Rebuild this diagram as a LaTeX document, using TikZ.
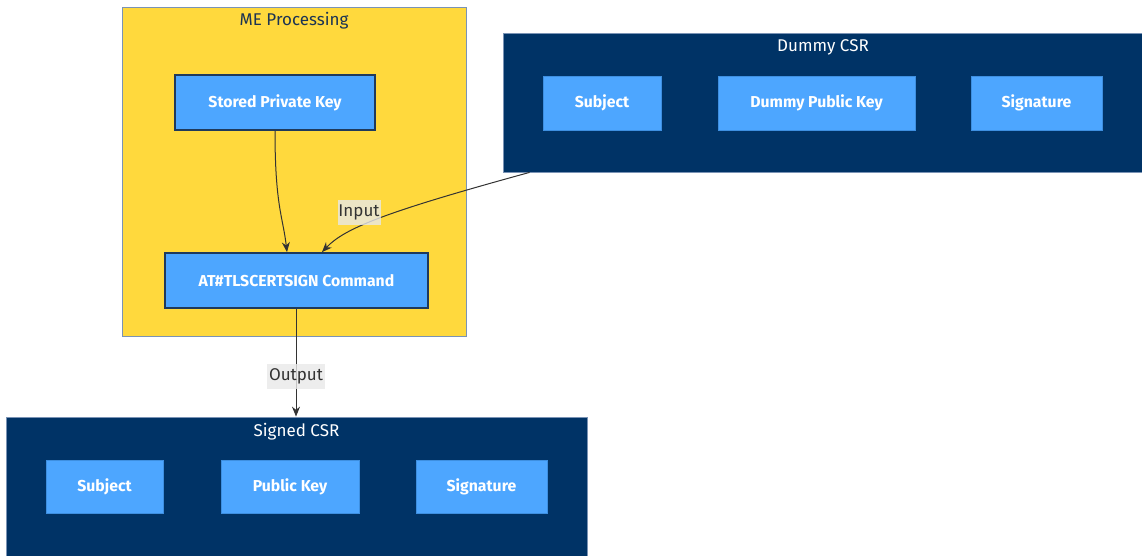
\documentclass[tikz,border=0pt]{standalone}
\usepackage{fontspec}
\setmainfont{Fira Sans}
\usetikzlibrary{arrows.meta}
\definecolor{meyellow}{HTML}{FFD93D}
\definecolor{navy}{HTML}{003366}
\definecolor{skyblue}{HTML}{4DA6FF}
\definecolor{nodeedge}{HTML}{1F3A5C}
\definecolor{clusteredge}{HTML}{7A93B5}
\definecolor{linkgray}{HTML}{333333}
\definecolor{labelbg}{HTML}{E8E8E8}
\tikzset{
  cluster/.style={draw=clusteredge, line width=0.8pt, inner sep=0pt, anchor=center},
  yellowcluster/.style={cluster, fill=meyellow},
  navycluster/.style={cluster, fill=navy},
  ctitle/.style={font=\fontsize{17}{19}\selectfont, inner sep=0pt},
  keybox/.style={draw=nodeedge, line width=1.8pt, fill=skyblue, text=white,
    font=\bfseries\fontsize{15.8}{18}\selectfont, inner sep=0pt, minimum height=55pt},
  fieldbox/.style={draw=skyblue!80!navy, line width=0.6pt, fill=skyblue, text=white,
    font=\bfseries\fontsize{15.8}{18}\selectfont, inner sep=0pt, minimum height=54pt},
  link/.style={draw=linkgray, line width=1pt, -{Stealth[length=10pt,width=8pt]}},
  elabel/.style={fill=labelbg, fill opacity=0.8, text opacity=1, text=linkgray,
    font=\fontsize{17}{19}\selectfont, inner sep=0pt, minimum height=25pt}
}
\begin{document}
\begin{tikzpicture}[x=1pt,y=-1pt]
\useasboundingbox (0,0) rectangle (1142,556);

% clusters
\node[yellowcluster, minimum width=344pt, minimum height=329pt] (me) at (294,171.5) {};
\node[ctitle, text=nodeedge!90!black] (metitle) at (294,20.5) {ME Processing};

\node[navycluster, minimum width=640pt, minimum height=139pt] (dummy) at (823,102.5) {};
\node[ctitle, text=white] (dummytitle) at (823,47.5) {Dummy CSR};

\node[navycluster, minimum width=581pt, minimum height=139pt] (signed) at (296.5,486.5) {};
\node[ctitle, text=white] (signedtitle) at (296.5,431.5) {Signed CSR};

% processing nodes
\node[keybox, minimum width=200pt] (spk) at (275,102.5) {Stored Private Key};
\node[keybox, minimum width=263pt] (cmd) at (296.5,280.5) {AT\#TLSCERTSIGN Command};

% dummy CSR fields
\node[fieldbox, minimum width=118pt] (dsubj) at (602,103) {Subject};
\node[fieldbox, minimum width=197pt] (dpk) at (816.5,103) {Dummy Public Key};
\node[fieldbox, minimum width=131pt] (dsig) at (1036.5,103) {Signature};

% signed CSR fields
\node[fieldbox, minimum width=117pt, minimum height=53pt] (ssubj) at (104.5,486.5) {Subject};
\node[fieldbox, minimum width=138pt, minimum height=53pt] (spub) at (290,486.5) {Public Key};
\node[fieldbox, minimum width=131pt, minimum height=53pt] (ssig) at (481.5,486.5) {Signature};

% connectors
\draw[link] (spk.south) .. controls +(0,75) and +(-4,-35) .. ([xshift=-9.5pt]cmd.north);
\draw[link] ([xshift=27pt]dummy.south west) .. controls (385,212) and (345,228) .. ([xshift=25.5pt]cmd.north);
\draw[link] ([xshift=-0.5pt]cmd.south) -- ([xshift=-0.5pt]signed.north);

% edge labels
\node[elabel, minimum width=43pt] (inlabel) at (359,212.5) {Input};
\node[elabel, minimum width=58pt] (outlabel) at (296,376.5) {Output};
\end{tikzpicture}
\end{document}
